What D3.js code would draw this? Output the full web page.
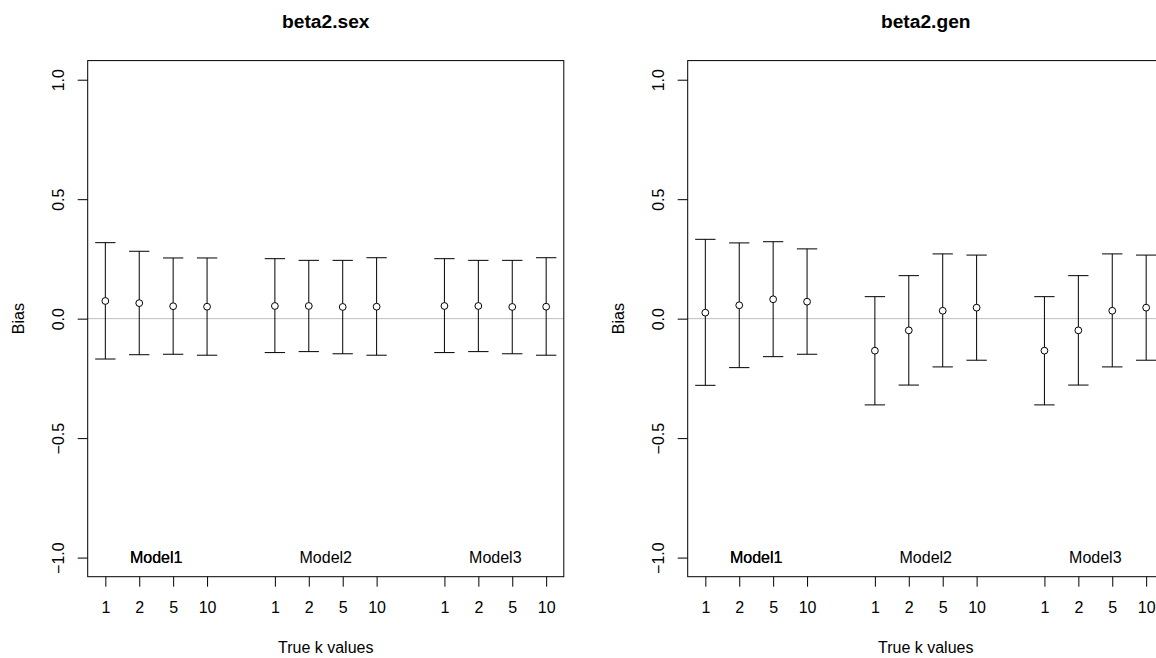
<!DOCTYPE html>
<html>
<head>
<meta charset="utf-8">
<script src="https://cdn.jsdelivr.net/npm/d3@7"></script>
<style>
body { margin:0; background:#fff; }
svg text { font-family: "Liberation Sans", Arial, Helvetica, sans-serif; fill:#000; }
</style>
</head>
<body>
<svg id="chart"></svg>
<script>
//----------data-------------
var kLabels = ["1","2","5","10"];
var models = ["Model1","Model2","Model3"];
var xPos = [1,2,3,4, 6,7,8,9, 11,12,13,14];
var modelPos = [2.5,7.5,12.5];
var yTicks = [-1.0,-0.5,0.0,0.5,1.0];

var sexMean  = [0.074,0.065,0.052,0.050, 0.053,0.053,0.049,0.050, 0.053,0.053,0.049,0.050];
var sexUpper = [0.318,0.282,0.254,0.254, 0.251,0.244,0.244,0.255, 0.251,0.244,0.244,0.255];
var sexLower = [-0.169,-0.151,-0.149,-0.153, -0.142,-0.138,-0.147,-0.153, -0.142,-0.138,-0.147,-0.153];

var genMean  = [0.025,0.056,0.081,0.071, -0.134,-0.049,0.033,0.046, -0.134,-0.049,0.033,0.046];
var genUpper = [0.332,0.317,0.322,0.292, 0.092,0.180,0.271,0.266, 0.092,0.180,0.271,0.266];
var genLower = [-0.279,-0.205,-0.159,-0.149, -0.361,-0.278,-0.202,-0.174, -0.361,-0.278,-0.202,-0.174];

var panels = [
	{title:"beta2.sex", mean:sexMean, upper:sexUpper, lower:sexLower, offset:0},
	{title:"beta2.gen", mean:genMean, upper:genUpper, lower:genLower, offset:600}
];

var screen = {width:1156, height:658};
var plot = {left:87.7, right:563.8, top:60.6, bottom:576.7};

var svg = d3.select("#chart")
	.attr("width", screen.width)
	.attr("height", screen.height);

//----------one panel-------------
var drawPanel = function(p)
{
	var g = svg.append("g")
		.attr("transform", "translate(" + p.offset + ",0)");

	var xScale = d3.scaleLinear()
		.domain([0.48, 14.52])
		.range([plot.left, plot.right]);
	var yScale = d3.scaleLinear()
		.domain([-1.08, 1.08])
		.range([plot.bottom, plot.top]);

	// zero line
	g.append("line")
		.attr("x1", plot.left).attr("x2", plot.right)
		.attr("y1", yScale(0)).attr("y2", yScale(0))
		.attr("stroke", "#bebebe");

	var rows = xPos.map(function(x, i) {
		return {x:x, m:p.mean[i], lo:p.lower[i], hi:p.upper[i]};
	});

	var bars = g.selectAll(".bar")
		.data(rows)
		.enter()
		.append("g")
		.attr("class", "bar");

	bars.append("line")
		.attr("x1", function(d){ return xScale(d.x) })
		.attr("x2", function(d){ return xScale(d.x) })
		.attr("y1", function(d){ return yScale(d.lo) })
		.attr("y2", function(d){ return yScale(d.hi) })
		.attr("stroke", "#000");
	bars.append("line")
		.attr("x1", function(d){ return xScale(d.x - 0.3) })
		.attr("x2", function(d){ return xScale(d.x + 0.3) })
		.attr("y1", function(d){ return yScale(d.hi) })
		.attr("y2", function(d){ return yScale(d.hi) })
		.attr("stroke", "#000");
	bars.append("line")
		.attr("x1", function(d){ return xScale(d.x - 0.3) })
		.attr("x2", function(d){ return xScale(d.x + 0.3) })
		.attr("y1", function(d){ return yScale(d.lo) })
		.attr("y2", function(d){ return yScale(d.lo) })
		.attr("stroke", "#000");
	bars.append("circle")
		.attr("cx", function(d){ return xScale(d.x) })
		.attr("cy", function(d){ return yScale(d.m) })
		.attr("r", 3.4)
		.attr("fill", "#fff")
		.attr("stroke", "#000");

	// y axis
	var yAxis = d3.axisLeft(yScale)
		.tickValues(yTicks)
		.tickSize(10)
		.tickPadding(0)
		.tickFormat(d3.format(".1f"));
	var ya = g.append("g")
		.attr("transform", "translate(" + plot.left + ",0)")
		.call(yAxis);
	ya.select(".domain")
		.attr("d", "M-10," + yScale(-1) + "H0V" + yScale(1) + "H-10")
		.attr("stroke", "none");
	ya.selectAll(".tick line").attr("stroke", "#000");
	ya.selectAll(".tick text")
		.attr("x", null).attr("dy", null)
		.attr("transform", "translate(-24,0) rotate(-90)")
		.attr("text-anchor", "middle")
		.style("font-size", "16px")
		.style("font-family", "Liberation Sans, Arial, sans-serif")
		.attr("fill", "#000")
		.text(function(d){ return d3.format(".1f")(d).replace("-", "\u2212") });

	// x axis
	var xAxis = d3.axisBottom(xScale)
		.tickValues(xPos)
		.tickSize(10)
		.tickPadding(0)
		.tickFormat(function(d, i){ return kLabels[i % 4] });
	var xa = g.append("g")
		.attr("transform", "translate(0," + plot.bottom + ")")
		.call(xAxis);
	xa.select(".domain").attr("stroke", "none");
	xa.selectAll(".tick line").attr("stroke", "#000");
	xa.selectAll(".tick text")
		.attr("y", 36).attr("dy", null)
		.style("font-size", "16px")
		.style("font-family", "Liberation Sans, Arial, sans-serif")
		.attr("fill", "#000");

	// box
	g.append("rect")
		.attr("x", plot.left).attr("y", plot.top)
		.attr("width", plot.right - plot.left)
		.attr("height", plot.bottom - plot.top)
		.attr("fill", "none")
		.attr("stroke", "#000");

	// model labels (Model1 is drawn twice, like the original)
	var mlab = models.concat([models[0]]);
	var mx = modelPos.concat([modelPos[0]]);
	g.selectAll(".mlab")
		.data(mlab)
		.enter()
		.append("text")
		.attr("class", "mlab")
		.attr("x", function(d, i){ return xScale(mx[i]) })
		.attr("y", yScale(-1) + 5.8)
		.attr("text-anchor", "middle")
		.style("font-size", "16px")
		.text(function(d){ return d });

	// titles
	g.append("text")
		.attr("x", (plot.left + plot.right) / 2)
		.attr("y", 27.7)
		.attr("text-anchor", "middle")
		.style("font-size", "19.2px")
		.style("font-weight", "bold")
		.text(p.title);
	g.append("text")
		.attr("x", (plot.left + plot.right) / 2)
		.attr("y", 652.5)
		.attr("text-anchor", "middle")
		.style("font-size", "16px")
		.text("True k values");
	g.append("text")
		.attr("transform", "translate(24.3," + yScale(0) + ") rotate(-90)")
		.attr("text-anchor", "middle")
		.style("font-size", "16px")
		.text("Bias");
}

panels.forEach(drawPanel);
</script>
</body>
</html>
